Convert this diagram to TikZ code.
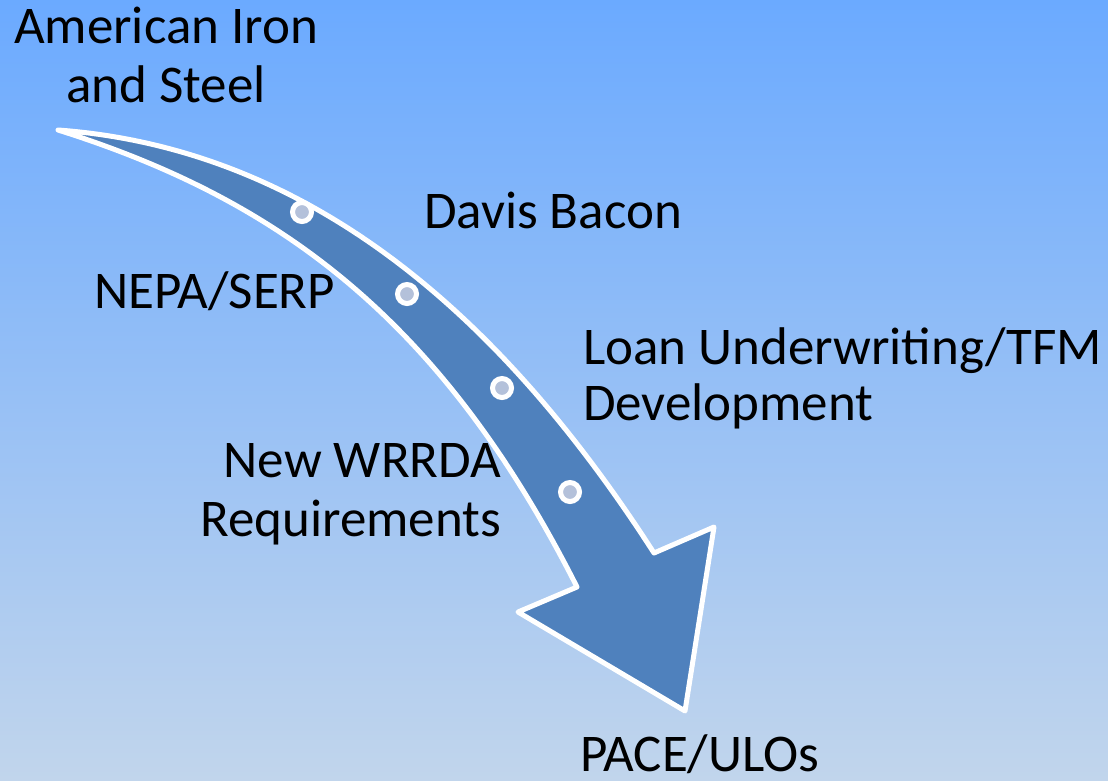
\documentclass[tikz,border=0pt]{standalone}
\usepackage{fontspec}
\setmainfont{Carlito}
\definecolor{bgtop}{HTML}{6BAAFF}
\definecolor{bgbot}{HTML}{C1D5EC}
\definecolor{arrowfill}{HTML}{4F81BD}
\definecolor{dotfill}{HTML}{B4C1DA}
\begin{document}
\begin{tikzpicture}[x=1pt,y=-1pt,
  lbl/.style={inner sep=0pt,outer sep=0pt,font=\fontsize{53}{58}\selectfont,text=black},
  dotnode/.style={circle,draw=white,line width=5pt,fill=dotfill,minimum size=19pt,inner sep=0pt}]
\useasboundingbox (0,0) rectangle (1108,780);
\shade[top color=bgtop,bottom color=bgbot] (0,0) rectangle (1108,780);
% arrow
\coordinate (tail) at (58,130);
\coordinate (upn) at (654,553);
\coordinate (upb) at (714,527);
\coordinate (tip) at (685,711);
\coordinate (lob) at (518,612);
\coordinate (lon) at (577,587);
\draw[fill=arrowfill,draw=white,line width=5pt,line join=round]
  (tail) .. controls (330,150) and (519,343) .. (upn)
  -- (upb) -- (tip) -- (lob) -- (lon)
  .. controls (442,320) and (280,200) .. (tail) -- cycle;
% dots
\node[dotnode] (d1) at (302,212) {};
\node[dotnode] (d2) at (407,294) {};
\node[dotnode] (d3) at (502,388) {};
\node[dotnode] (d4) at (570,492) {};
% labels
\node[lbl,anchor=base] (ai1) at (166,43) {American Iron};
\node[lbl,anchor=base] (ai2) at (166,102) {and Steel};
\node[lbl,anchor=base west] (db) at (424,228) {Davis Bacon};
\node[lbl,anchor=base west] (np) at (94,308) {NEPA/SERP};
\node[lbl,anchor=base west] (lu1) at (583,364) {Loan Underwriting/TFM};
\node[lbl,anchor=base west] (lu2) at (583,420) {Development};
\node[lbl,anchor=base east] (nw1) at (501,477) {New WRRDA};
\node[lbl,anchor=base east] (nw2) at (501,536) {Requirements};
\node[lbl,anchor=base west] (pace) at (580,771) {PACE/ULOs};
\end{tikzpicture}
\end{document}
